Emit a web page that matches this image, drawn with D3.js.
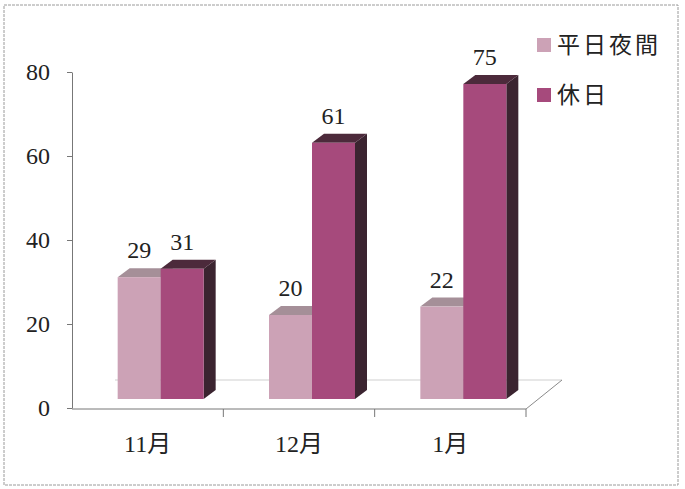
<!DOCTYPE html>
<html>
<head>
<meta charset="utf-8">
<script src="https://cdn.jsdelivr.net/npm/d3@7"></script>
<style>
  body { margin: 0; background: #fff; }
  svg { display: block; }
</style>
</head>
<body>
<svg id="chart" width="685" height="489"></svg>
<script>
// data
var categories = ["11月", "12月", "1月"];
var seriesNames = ["平日夜間", "休日"];
var weekdayNight = [29, 20, 22];
var holiday = [31, 61, 75];
var yTicks = [0, 20, 40, 60, 80];

var colors = {
	front: ["#cca2b6", "#a64a7c"],
	top: ["#a58f98", "#4c2a3b"],
	side: ["#8e6f7d", "#3b2430"]
};

var svg = d3.select("#chart");
var depthX = 12, depthY = -9, lift = 9;
var serif = "'Liberation Serif', 'Times New Roman', serif";

//frame round the picture
svg.append("rect")
	.attr("x", 4).attr("y", 5)
	.attr("width", 674).attr("height", 480)
	.attr("fill", "none")
	.attr("stroke", "#9a9a9a")
	.attr("stroke-dasharray", "3,1");

var y = d3.scaleLinear().domain([0, 80]).range([408, 72]);
var x = d3.scaleBand().domain(categories).range([72, 526]);
var groupWidth = 86;
var x1 = d3.scaleBand().domain(seriesNames).range([0, groupWidth]);

// floor
svg.append("line")
	.attr("x1", 115).attr("x2", 526 + 36)
	.attr("y1", y(0) - 28).attr("y2", y(0) - 28)
	.attr("stroke", "#cfcfcf");
svg.append("line")
	.attr("x1", 526).attr("y1", y(0) + 1)
	.attr("x2", 526 + 36).attr("y2", y(0) - 28)
	.attr("stroke", "#8a8a8a");

// y axis
var yAxis = svg.append("g")
	.attr("transform", "translate(72,0)")
	.call(d3.axisLeft(y).tickValues(yTicks).tickSize(5).tickSizeOuter(0).tickPadding(17));
yAxis.select(".domain").attr("stroke", "#777");
yAxis.selectAll(".tick line").attr("stroke", "#777");
yAxis.selectAll("text")
	.attr("font-family", serif)
	.attr("font-size", 24)
	.attr("fill", "#222");

// x axis, ticks sit on the band edges
svg.append("line")
	.attr("x1", 72).attr("x2", 526)
	.attr("y1", y(0) + 1).attr("y2", y(0) + 1)
	.attr("stroke", "#777");
svg.selectAll(".xtick")
	.data(categories)
	.enter().append("line")
	.attr("class", "xtick")
	.attr("x1", function(d){ return x(d) + x.bandwidth(); })
	.attr("x2", function(d){ return x(d) + x.bandwidth(); })
	.attr("y1", y(0) + 1).attr("y2", y(0) + 9)
	.attr("stroke", "#777");
svg.selectAll(".xlabel")
	.data(categories)
	.enter().append("text")
	.attr("class", "xlabel")
	.attr("x", function(d){ return x(d) + x.bandwidth() / 2; })
	.attr("y", 452)
	.attr("text-anchor", "middle")
	.attr("font-family", "'Liberation Serif', 'Noto Sans CJK JP', serif")
	.attr("font-size", 24)
	.attr("fill", "#222")
	.text(function(d){ return d; });

// bars
var bars = [];
categories.forEach(function(c, i){
	[weekdayNight[i], holiday[i]].forEach(function(v, s){
		bars.push({ cat: c, series: s, value: v });
	});
});

function barX(d) {
	return x(d.cat) + (x.bandwidth() - groupWidth) / 2 + 13 + x1(seriesNames[d.series]);
}

var g = svg.append("g");
bars.forEach(function(d){
	var x0 = barX(d), w = x1.bandwidth();
	var top = y(d.value) - lift, bottom = y(0) - lift;
	// side
	g.append("path")
		.attr("d", "M" + (x0 + w) + "," + top + "L" + (x0 + w + depthX) + "," + (top + depthY) +
			"L" + (x0 + w + depthX) + "," + (bottom + depthY) + "L" + (x0 + w) + "," + bottom + "Z")
		.attr("fill", colors.side[d.series]);
	// top
	g.append("path")
		.attr("d", "M" + x0 + "," + top + "L" + (x0 + depthX) + "," + (top + depthY) +
			"L" + (x0 + w + depthX) + "," + (top + depthY) + "L" + (x0 + w) + "," + top + "Z")
		.attr("fill", colors.top[d.series]);
	// front
	g.append("rect")
		.attr("x", x0).attr("y", top)
		.attr("width", w).attr("height", bottom - top)
		.attr("fill", colors.front[d.series]);
	// value
	g.append("text")
		.attr("x", x0 + w / 2)
		.attr("y", top + depthY - 10)
		.attr("text-anchor", "middle")
		.attr("font-family", serif)
		.attr("font-size", 24)
		.attr("fill", "#222")
		.text(d.value);
});

// legend
var legend = svg.selectAll(".legend")
	.data(seriesNames)
	.enter().append("g")
	.attr("class", "legend")
	.attr("transform", function(d, i){ return "translate(537," + (38 + i * 50) + ")"; });
legend.append("rect")
	.attr("width", 14).attr("height", 14)
	.attr("fill", function(d, i){ return colors.front[i]; });
legend.append("text")
	.attr("x", 20).attr("y", 15)
	.attr("font-family", "'Noto Sans CJK JP', sans-serif")
	.attr("font-size", 23)
	.attr("letter-spacing", 3)
	.attr("fill", "#222")
	.text(function(d){ return d; });
</script>
</body>
</html>
